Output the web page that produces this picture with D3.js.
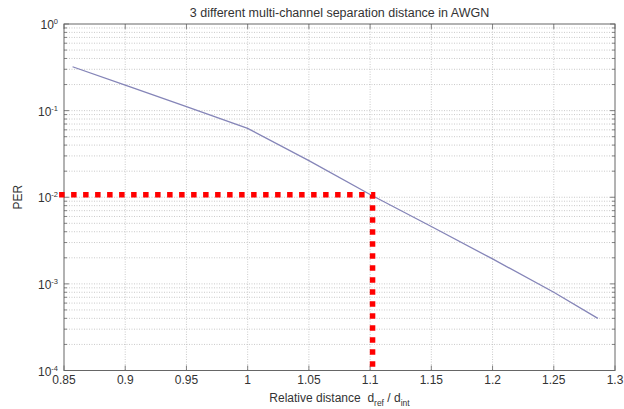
<!DOCTYPE html>
<html>
<head>
<meta charset="utf-8">
<script src="https://cdn.jsdelivr.net/npm/d3@7"></script>
<style>
  body { margin: 0; background: #fff; }
  svg { display: block; font-family: "Liberation Sans", Arial, sans-serif; }
</style>
</head>
<body>
<div id="chart"></div>
<script>
// values
const distance = [0.857, 0.9, 0.95, 1.0, 1.05, 1.1, 1.15, 1.2, 1.25, 1.286];
const per = [0.321, 0.197, 0.111, 0.0625, 0.0265, 0.01075, 0.00459, 0.00194, 0.0008, 0.0004];
const xTicks = [0.85, 0.9, 0.95, 1.0, 1.05, 1.1, 1.15, 1.2, 1.25, 1.3];
const xTickLabels = ["0.85", "0.9", "0.95", "1", "1.05", "1.1", "1.15", "1.2", "1.25", "1.3"];
const yExponents = [0, -1, -2, -3, -4];
const markerDistance = [0.846, 1.102, 1.102];
const markerPER = [0.0107, 0.0107, 0.0001];

function drawChart() {
    const W = 624, H = 409;
    const margin = { top: 24, right: 9, bottom: 38.5, left: 64 };
    const width = W - margin.left - margin.right;
    const height = H - margin.top - margin.bottom;

    const svg = d3.select("#chart").append("svg")
        .attr("width", W)
        .attr("height", H);

    const chart = svg.append("g")
        .attr("transform", `translate(${margin.left},${margin.top})`);

    const x = d3.scaleLinear().domain([0.85, 1.3]).range([0, width]);
    const y = d3.scaleLog().domain([1e-4, 1]).range([height, 0]);

    const majorY = yExponents.map(e => Math.pow(10, e));
    const minorY = [];
    yExponents.slice(1).forEach(e => {
        for (let m = 2; m <= 9; m++) minorY.push(m * Math.pow(10, e));
    });

    // grid
    const grid = chart.append("g")
        .attr("stroke", "#bdbdbd")
        .attr("stroke-width", 0.8)
        .attr("stroke-dasharray", "1,1.5");
    grid.selectAll(".vg").data(xTicks.slice(1, -1)).enter().append("line")
        .attr("x1", d => x(d)).attr("x2", d => x(d))
        .attr("y1", 0).attr("y2", height);
    grid.selectAll(".hg").data(majorY.slice(1, -1).concat(minorY)).enter().append("line")
        .attr("x1", 0).attr("x2", width)
        .attr("y1", d => y(d)).attr("y2", d => y(d));

    // ticks, drawn inward on all four sides
    const tickG = chart.append("g").attr("stroke", "#666").attr("stroke-width", 0.8);
    xTicks.forEach(t => {
        tickG.append("line").attr("x1", x(t)).attr("x2", x(t)).attr("y1", height).attr("y2", height - 5);
        tickG.append("line").attr("x1", x(t)).attr("x2", x(t)).attr("y1", 0).attr("y2", 5);
    });
    majorY.concat(minorY).forEach(v => {
        const len = majorY.includes(v) ? 5 : 3;
        tickG.append("line").attr("x1", 0).attr("x2", len).attr("y1", y(v)).attr("y2", y(v));
        tickG.append("line").attr("x1", width).attr("x2", width - len).attr("y1", y(v)).attr("y2", y(v));
    });

    // box
    chart.append("rect")
        .attr("width", width).attr("height", height)
        .attr("fill", "none")
        .attr("stroke", "#666")
        .attr("stroke-width", 1);

    // x tick labels
    chart.selectAll(".xl").data(xTicks).enter().append("text")
        .attr("x", d => x(d))
        .attr("y", height + 13)
        .attr("text-anchor", "middle")
        .style("font-size", "12px")
        .attr("fill", "#333")
        .text((d, i) => xTickLabels[i]);

    // y tick labels 10^e
    const yl = chart.selectAll(".yl").data(yExponents).enter().append("text")
        .attr("x", -6)
        .attr("y", d => y(Math.pow(10, d)) + 5)
        .attr("text-anchor", "end")
        .style("font-size", "12px")
        .attr("fill", "#333");
    yl.append("tspan").text("10");
    yl.append("tspan")
        .attr("dy", -5)
        .style("font-size", "7.5px")
        .text(d => d);

    // data line
    const line = d3.line()
        .x((d, i) => x(distance[i]))
        .y(d => y(d));
    chart.append("path")
        .attr("d", line(per))
        .attr("fill", "none")
        .attr("stroke", "#8585b8")
        .attr("stroke-width", 1.3);

    // red marker
    const marker = d3.line()
        .x((d, i) => x(markerDistance[i]))
        .y(d => y(d));
    chart.append("path")
        .attr("d", marker(markerPER))
        .attr("fill", "none")
        .attr("stroke", "#ff0000")
        .attr("stroke-width", 5.5)
        .attr("stroke-dasharray", "5.5,6.5");

    // title and labels
    svg.append("text")
        .attr("x", margin.left + width / 2)
        .attr("y", 17)
        .attr("text-anchor", "middle")
        .style("font-size", "12.5px")
        .attr("fill", "#333")
        .text("3 different multi-channel separation distance in AWGN");

    svg.append("text")
        .attr("transform", `translate(22,${margin.top + height / 2}) rotate(-90)`)
        .attr("text-anchor", "middle")
        .style("font-size", "12px")
        .attr("fill", "#333")
        .text("PER");

    const xl = svg.append("text")
        .attr("x", margin.left + width / 2)
        .attr("y", 402)
        .attr("text-anchor", "middle")
        .style("font-size", "12px")
        .attr("fill", "#333");
    xl.append("tspan").text("Relative distance\u00a0\u00a0d");
    xl.append("tspan").attr("dy", 4).style("font-size", "8.5px").text("ref");
    xl.append("tspan").attr("dy", -4).text(" / d");
    xl.append("tspan").attr("dy", 4).style("font-size", "8.5px").text("int");
}

window.addEventListener("load", drawChart);
</script>
</body>
</html>
